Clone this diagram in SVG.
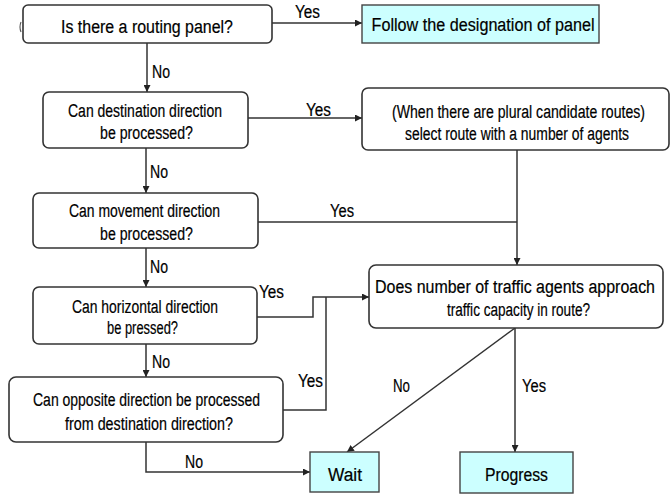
<svg xmlns="http://www.w3.org/2000/svg" width="671" height="496" viewBox="0 0 671 496">
  <defs>
    <marker id="arrow" viewBox="0 0 8 8" refX="8" refY="4" markerWidth="7" markerHeight="7" markerUnits="userSpaceOnUse" orient="auto">
      <path d="M0,0 L8,4 L0,8 z" fill="#222"/>
    </marker>
    <style>
      text { font-family: "Liberation Sans", Arial, sans-serif; font-size: 18px; fill: #000; stroke: #000; stroke-width: 0.2; }
      .mid { text-anchor: middle; }
      .decision { fill: #fff; stroke: #333; stroke-width: 1.6; }
      .result { fill: #ccffff; stroke: #444; stroke-width: 1.4; }
      .wire { fill: none; stroke: #333; stroke-width: 1.5; }
      .wire-arrow { fill: none; stroke: #333; stroke-width: 1.5; marker-end: url(#arrow); }
      .thin { fill: none; stroke: #555; stroke-width: 1.1; }
    </style>
  </defs>
  <rect width="671" height="496" fill="#fff"/>

  <!-- connectors -->
  <g id="connectors">
    <line class="wire-arrow" x1="272" y1="23" x2="362" y2="23"/>
    <line class="wire-arrow" x1="147" y1="43" x2="147" y2="92"/>
    <line class="wire-arrow" x1="248" y1="118" x2="362" y2="118"/>
    <line class="wire-arrow" x1="146" y1="148" x2="146" y2="193"/>
    <line class="wire-arrow" x1="517" y1="150" x2="517" y2="265"/>
    <line class="wire" x1="258" y1="222" x2="517" y2="222"/>
    <line class="wire-arrow" x1="146" y1="248" x2="146" y2="287"/>
    <polyline class="wire-arrow" points="257,317 313,317 313,297 369,297"/>
    <polyline class="wire" points="283,410 326,410 326,297"/>
    <line class="wire-arrow" x1="146" y1="344" x2="146" y2="377"/>
    <polyline class="wire-arrow" points="146,442 146,472 310,472"/>
    <line class="wire-arrow" x1="515" y1="328" x2="347" y2="452"/>
    <line class="wire-arrow" x1="515" y1="328" x2="515" y2="452"/>
    <path class="thin" d="M21,22 Q19,27 21,32"/>

    <text x="295" y="18" textLength="25" lengthAdjust="spacingAndGlyphs">Yes</text>
    <text x="152" y="78" textLength="18" lengthAdjust="spacingAndGlyphs">No</text>
    <text x="306" y="116" textLength="25" lengthAdjust="spacingAndGlyphs">Yes</text>
    <text x="150" y="178" textLength="18" lengthAdjust="spacingAndGlyphs">No</text>
    <text x="330" y="217" textLength="24" lengthAdjust="spacingAndGlyphs">Yes</text>
    <text x="150" y="273" textLength="18" lengthAdjust="spacingAndGlyphs">No</text>
    <text x="259" y="298" textLength="25" lengthAdjust="spacingAndGlyphs">Yes</text>
    <text x="152" y="368" textLength="18" lengthAdjust="spacingAndGlyphs">No</text>
    <text x="298" y="387" textLength="25" lengthAdjust="spacingAndGlyphs">Yes</text>
    <text x="185" y="468" textLength="18" lengthAdjust="spacingAndGlyphs">No</text>
    <text x="393" y="392" textLength="17" lengthAdjust="spacingAndGlyphs">No</text>
    <text x="522" y="392" textLength="24" lengthAdjust="spacingAndGlyphs">Yes</text>
  </g>

  <g id="routing-panel">
    <rect class="decision" x="23" y="5" width="249" height="38" rx="5"/>
    <text class="mid" x="147" y="33" textLength="172" lengthAdjust="spacingAndGlyphs">Is there a routing panel?</text>
  </g>

  <g id="follow-panel">
    <rect class="result" x="362" y="5" width="237" height="38"/>
    <text class="mid" x="483" y="31" textLength="223" lengthAdjust="spacingAndGlyphs">Follow the designation of panel</text>
  </g>

  <g id="destination">
    <rect class="decision" x="43" y="92" width="205" height="56" rx="6"/>
    <text class="mid" x="145" y="117" textLength="154" lengthAdjust="spacingAndGlyphs">Can destination direction</text>
    <text class="mid" x="146.5" y="139" textLength="93" lengthAdjust="spacingAndGlyphs">be processed?</text>
  </g>

  <g id="select-route">
    <rect class="decision" x="362" y="88" width="307" height="62" rx="6"/>
    <text class="mid" x="518.5" y="118" textLength="253" lengthAdjust="spacingAndGlyphs">(When there are plural candidate routes)</text>
    <text class="mid" x="517" y="140" textLength="224" lengthAdjust="spacingAndGlyphs">select route with a number of agents</text>
  </g>

  <g id="movement">
    <rect class="decision" x="33" y="193" width="225" height="55" rx="6"/>
    <text class="mid" x="144.5" y="217" textLength="151" lengthAdjust="spacingAndGlyphs">Can movement direction</text>
    <text class="mid" x="146.5" y="240" textLength="93" lengthAdjust="spacingAndGlyphs">be processed?</text>
  </g>

  <g id="horizontal">
    <rect class="decision" x="33" y="287" width="224" height="57" rx="6"/>
    <text class="mid" x="145" y="313" textLength="146" lengthAdjust="spacingAndGlyphs">Can horizontal direction</text>
    <text class="mid" x="142.5" y="334" textLength="71" lengthAdjust="spacingAndGlyphs">be pressed?</text>
  </g>

  <g id="opposite">
    <rect class="decision" x="9" y="377" width="274" height="65" rx="7"/>
    <text class="mid" x="146.5" y="406" textLength="227" lengthAdjust="spacingAndGlyphs">Can opposite direction be processed</text>
    <text class="mid" x="149" y="430" textLength="168" lengthAdjust="spacingAndGlyphs">from destination direction?</text>
  </g>

  <g id="capacity">
    <rect class="decision" x="369" y="265" width="294" height="63" rx="7"/>
    <text class="mid" x="515" y="293" textLength="280" lengthAdjust="spacingAndGlyphs">Does number of traffic agents approach</text>
    <text class="mid" x="518.5" y="316" textLength="143" lengthAdjust="spacingAndGlyphs">traffic capacity in route?</text>
  </g>

  <g id="wait">
    <rect class="result" x="310" y="452" width="69" height="40"/>
    <text class="mid" x="345" y="481" textLength="34" lengthAdjust="spacingAndGlyphs">Wait</text>
  </g>

  <g id="progress">
    <rect class="result" x="460" y="452" width="113" height="41"/>
    <text class="mid" x="516.5" y="481" textLength="63" lengthAdjust="spacingAndGlyphs">Progress</text>
  </g>
</svg>
